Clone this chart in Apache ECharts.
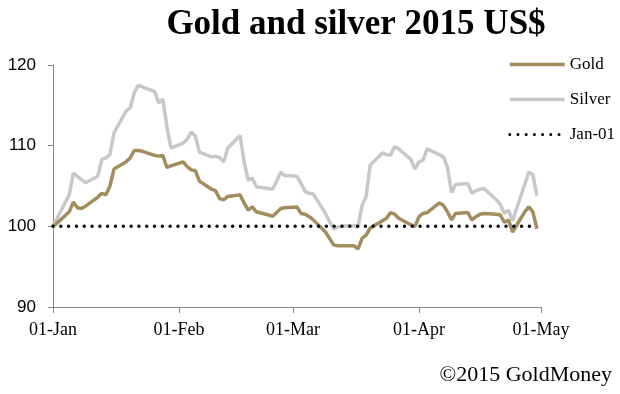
<!DOCTYPE html>
<html>
<head>
<meta charset="utf-8">
<script src="https://cdn.jsdelivr.net/npm/echarts@6/dist/echarts.min.js"></script>
<style>html,body{margin:0;padding:0;background:#fff}#c{width:620px;height:394px}</style>
</head>
<body>
<div id="c"></div>
<script>
var dates = ['2015-01-01','2015-01-02','2015-01-05','2015-01-06','2015-01-07','2015-01-08','2015-01-09','2015-01-12','2015-01-13','2015-01-14','2015-01-15','2015-01-16','2015-01-19','2015-01-20','2015-01-21','2015-01-22','2015-01-23','2015-01-26','2015-01-27','2015-01-28','2015-01-29','2015-01-30',
'2015-02-02','2015-02-03','2015-02-04','2015-02-05','2015-02-06','2015-02-09','2015-02-10','2015-02-11','2015-02-12','2015-02-13','2015-02-16','2015-02-17','2015-02-18','2015-02-19','2015-02-20','2015-02-23','2015-02-24','2015-02-25','2015-02-26','2015-02-27',
'2015-03-02','2015-03-03','2015-03-04','2015-03-05','2015-03-06','2015-03-09','2015-03-10','2015-03-11','2015-03-12','2015-03-13','2015-03-16','2015-03-17','2015-03-18','2015-03-19','2015-03-20','2015-03-23','2015-03-24','2015-03-25','2015-03-26','2015-03-27','2015-03-30','2015-03-31',
'2015-04-01','2015-04-02','2015-04-03','2015-04-06','2015-04-07','2015-04-08','2015-04-09','2015-04-10','2015-04-13','2015-04-14','2015-04-15','2015-04-16','2015-04-17','2015-04-20','2015-04-21','2015-04-22','2015-04-23','2015-04-24','2015-04-27','2015-04-28','2015-04-29','2015-04-30'];

var gold = [100,100.4,101.8,103.0,102.3,102.2,102.5,103.6,104.1,103.9,105.0,107.1,108.0,108.5,109.4,109.4,109.3,108.8,108.7,108.8,107.3,107.5,
108.0,107.4,107.0,106.9,105.6,104.6,104.4,103.4,103.3,103.7,103.9,102.9,102.0,102.4,101.8,101.4,101.25,101.7,102.2,102.3,
102.4,101.6,101.5,101.2,100.8,99.3,98.5,97.7,97.6,97.6,97.6,97.2,98.5,98.9,99.8,100.7,101.0,101.7,101.5,101.0,100.2,100.0,
101.2,101.6,101.7,102.9,102.6,101.8,100.8,101.6,101.7,100.8,101.2,101.5,101.6,101.5,101.4,100.5,100.8,99.3,101.8,102.4,101.8,99.7];

var silver = [100,101.0,103.9,106.6,106.2,105.8,105.4,106.2,108.3,108.5,108.9,111.6,114.3,114.7,116.6,117.5,117.3,116.7,115.3,115.8,112.4,109.7,
110.3,110.8,111.7,111.2,109.2,108.6,108.7,108.5,108.0,109.7,111.25,108.0,105.7,106.0,104.9,104.7,104.6,105.6,106.7,106.3,
106.2,105.3,104.3,104.1,104.0,101.6,100.6,99.7,99.9,100.0,100.1,99.9,102.6,103.7,107.6,109.1,108.9,108.8,109.9,109.6,108.3,107.1,
108.0,108.2,109.6,108.9,108.6,107.3,104.2,105.2,105.3,104.1,104.4,104.6,104.7,103.3,102.7,101.6,102.0,100.7,105.2,106.7,106.4,103.8];

var baseValue = 100;
var tickDates = ['2015-01-01','2015-02-01','2015-03-01','2015-04-01','2015-05-01'];
var tickLabels = ['01-Jan','01-Feb','01-Mar','01-Apr','01-May'];
var yTicks = [90, 100, 110, 120];
var seriesNames = ['Gold', 'Silver', 'Jan-01'];

function dayOf(s) {
  var p = s.split('-');
  return Math.round((Date.UTC(+p[0], +p[1]-1, +p[2]) - Date.UTC(2015,0,1)) / 86400000);
}
var tickDays = tickDates.map(dayOf);
var goldData = dates.map(function(d,i){ return [dayOf(d), gold[i]]; });
var silverData = dates.map(function(d,i){ return [dayOf(d), silver[i]]; });
var baseData = dates.map(function(d){ return [dayOf(d), baseValue]; });

var chart = echarts.init(document.getElementById('c'), null, {renderer:'canvas'});
var serif = '"Liberation Serif", "DejaVu Serif", serif';
var dotStyle = {color: '#000', width: 3.5, type: [0.01, 7.8], cap: 'round'};
chart.setOption({
  animation: false,
  backgroundColor: '#fff',
  title: {
    text: 'Gold and silver 2015 US$',
    left: 351, top: 2, textAlign: 'center',
    textStyle: {fontFamily: serif, fontWeight: 'bold', fontSize: 35, color: '#000'}
  },
  legend: {
    orient: 'vertical',
    left: 503, top: 51,
    itemWidth: 55, itemHeight: 14, itemGap: 18,
    itemStyle: {opacity: 0},
    data: [
      {name: 'Gold', lineStyle: {color: '#A38D5E', width: 3.5}},
      {name: 'Silver', lineStyle: {color: '#C8C8C8', width: 3.5}},
      {name: 'Jan-01', lineStyle: {color: '#000', width: 3, type: [0.01, 8.2], cap: 'round'}}
    ],
    textStyle: {fontFamily: serif, fontSize: 17, color: '#000'}
  },
  grid: {left: 53, right: 79, top: 65, bottom: 87},
  xAxis: {
    type: 'value', min: tickDays[0], max: tickDays[tickDays.length-1],
    axisLine: {lineStyle: {color: '#868686', width: 1}},
    axisTick: {show: true, length: 6, lineStyle: {color: '#868686'}, customValues: tickDays},
    axisLabel: {customValues: tickDays, margin: 14, fontFamily: serif, fontSize: 18, color: '#000',
      formatter: function(v){ var i = tickDays.indexOf(v); return i >= 0 ? tickLabels[i] : ''; }},
    splitLine: {show: false}
  },
  yAxis: {
    type: 'value', min: yTicks[0], max: yTicks[yTicks.length-1], interval: 10,
    axisLine: {show: true, lineStyle: {color: '#868686', width: 1}},
    axisTick: {show: true, length: 5, lineStyle: {color: '#868686'}},
    axisLabel: {margin: 17, fontFamily: '"Liberation Sans", Arial, sans-serif', fontSize: 17, color: '#000'},
    splitLine: {show: false}
  },
  series: [
    {name: 'Silver', type: 'line', data: silverData, symbol: 'none', z: 2,
     lineStyle: {color: '#C8C8C8', width: 3.5}, itemStyle: {color: '#C8C8C8'}},
    {name: 'Gold', type: 'line', data: goldData, symbol: 'none', z: 3,
     lineStyle: {color: '#A38D5E', width: 3.5}, itemStyle: {color: '#A38D5E'}},
    {name: 'Jan-01', type: 'line', data: baseData, symbol: 'none', z: 4,
     lineStyle: dotStyle, itemStyle: {color: '#000'}}
  ],
  graphic: [{
    type: 'text', right: 8, top: 364,
    style: {text: '\u00a92015 GoldMoney', font: '22px ' + serif, fill: '#000'}
  }]
});
</script>
</body>
</html>
